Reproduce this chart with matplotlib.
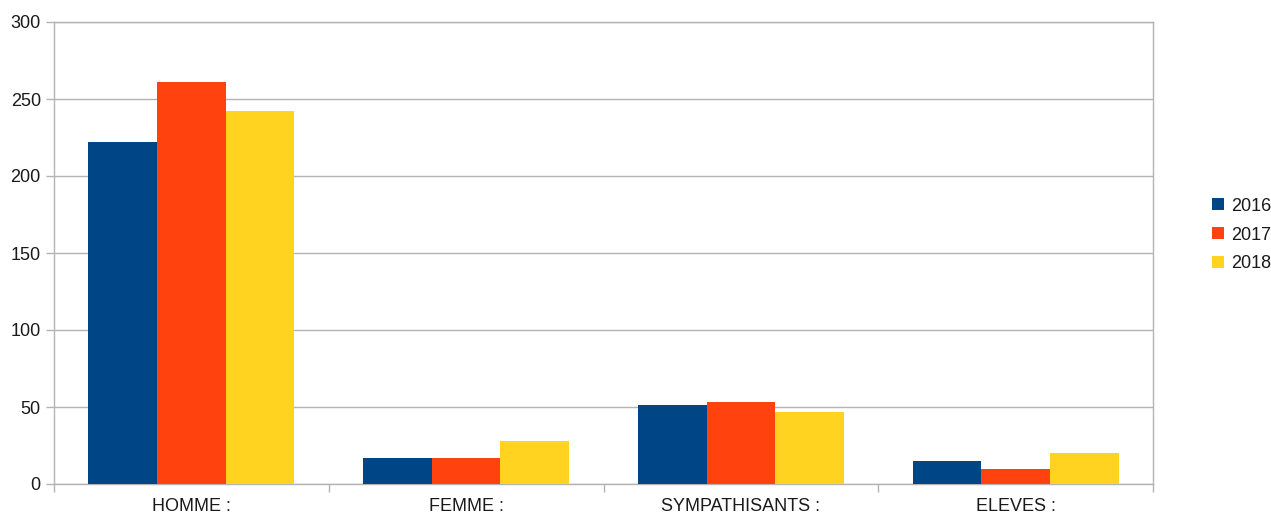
import matplotlib.pyplot as plt
import numpy as np

# Donnees
categories = ['HOMME :', 'FEMME :', 'SYMPATHISANTS :', 'ELEVES :']
annees = ['2016', '2017', '2018']
val_2016 = [222, 17, 51, 15]
val_2017 = [261, 17, 53, 10]
val_2018 = [242, 28, 47, 20]
couleurs = ['#004586', '#ff420e', '#ffd320']

plt.rcParams['font.family'] = ['Liberation Sans', 'DejaVu Sans']

fig = plt.figure(figsize=(12.71, 5.15), dpi=100)
ax = fig.add_axes([54 / 1271, 1 - 484 / 515, 1099 / 1271, 462 / 515])

largeur = 0.25
x = np.arange(len(categories))
for i, (vals, nom) in enumerate(zip([val_2016, val_2017, val_2018], annees)):
    ax.bar(x + (i - 1) * largeur, vals, width=largeur, color=couleurs[i], label=nom, zorder=3)

ax.set_xlim(-0.5, len(categories) - 0.5)
ax.set_ylim(0, 300)
ax.set_yticks(range(0, 301, 50))
ax.yaxis.grid(True, color='#b3b3b3', linewidth=1, zorder=0)

ax.set_xticks(x)
ax.set_xticklabels(categories)
ax.set_xticks(np.arange(-0.5, len(categories), 1), minor=True)
ax.tick_params(axis='x', which='major', length=0, pad=10, labelsize=13, labelcolor='#1a1a1a')
ax.tick_params(axis='x', which='minor', length=6, color='#b3b3b3', width=1)
ax.tick_params(axis='y', length=6, color='#b3b3b3', width=1, labelsize=13, labelcolor='#1a1a1a')

for s in ax.spines.values():
    s.set_color('#b3b3b3')
    s.set_linewidth(1)

fig.legend(loc='center left', bbox_to_anchor=(1212 / 1271, 1 - 235 / 515), frameon=False,
           fontsize=13, handlelength=0.65, handleheight=0.65, handletextpad=0.4,
           labelspacing=0.65, borderaxespad=0, borderpad=0, labelcolor='#1a1a1a')

fig.savefig('out.png', dpi=100)
